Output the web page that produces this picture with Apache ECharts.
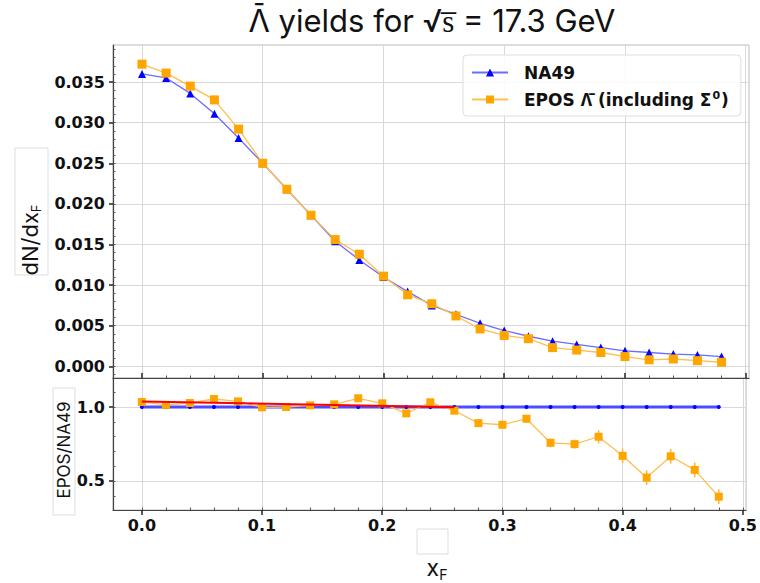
<!DOCTYPE html>
<html><head><meta charset="utf-8">
<script src="https://cdn.jsdelivr.net/npm/echarts@6/dist/echarts.min.js"></script>
<style>html,body{margin:0;padding:0;background:#fff}#c{width:760px;height:583px}</style>
</head><body><div id="c"></div>
<script>
// ---- data ----
const xF = [0.00,0.02,0.04,0.06,0.08,0.10,0.12,0.14,0.16,0.18,0.20,0.22,0.24,0.26,0.28,0.30,0.32,0.34,0.36,0.38,0.40,0.42,0.44,0.46,0.48];
const na49 = [0.0360,0.0355,0.0336,0.0311,0.0281,0.0250,0.0218,0.0186,0.0154,0.0131,0.0110,0.0092,0.0075,0.0064,0.0053,0.0044,0.0037,0.0031,0.0027,0.0023,0.0019,0.0017,0.0015,0.0014,0.0012];
const epos = [0.0372,0.0361,0.0345,0.0328,0.0292,0.0250,0.0218,0.0186,0.0156,0.0138,0.0111,0.0088,0.0077,0.0062,0.0046,0.0038,0.0034,0.0023,0.0020,0.0017,0.0012,0.0008,0.0009,0.0007,0.0005];
const ratioNA49 = [1,1,1,1,1,1,1,1,1,1,1,1,1,1,1,1,1,1,1,1,1,1,1,1,1];
const ratioEPOS = [1.034,1.014,1.027,1.054,1.038,0.998,1.000,1.011,1.018,1.059,1.025,0.957,1.032,0.975,0.891,0.880,0.921,0.758,0.749,0.799,0.670,0.523,0.667,0.575,0.394];
const ratioErr = [0.012,0.012,0.012,0.012,0.012,0.012,0.012,0.012,0.012,0.015,0.015,0.018,0.02,0.02,0.022,0.022,0.025,0.03,0.03,0.045,0.05,0.05,0.05,0.05,0.05];
const fitX = [0.0, 0.26];
const fitY = [1.037, 0.999];
const xTicks = [0.0,0.1,0.2,0.3,0.4,0.5];
const yTopTicks = [0.000,0.005,0.010,0.015,0.020,0.025,0.030,0.035];
const yBotTicks = [0.5,1.0];

// ---- layout ----
const XMIN = -0.024, XMAX = 0.5027;
const YTMIN = -0.00144, YTMAX = 0.03956;
const YBMIN = 0.304, YBMAX = 1.196;
function steps(a, b, s) { const r = []; for (let k = Math.round(a / s); k * s <= b + 1e-9; k++) r.push(+(k * s).toFixed(6)); return r; }
const xMinor = steps(0, 0.5, 0.02);
const yTopMinor = steps(-0.001, 0.039, 0.001);
const yBotMinor = steps(0.4, 1.1, 0.1);

const TICKFONT = { fontFamily: 'DejaVu Sans', fontWeight: 'bold', fontSize: 16, color: '#111' };
const AX = '#444';
const GRIDC = '#d9d9d9';

function xAxisMain(gi, labels) {
  return { gridIndex: gi, type: 'value', min: XMIN, max: XMAX, position: 'bottom',
    axisLine: { show: true, onZero: false, lineStyle: { color: AX, width: 1.2 } },
    axisTick: { show: true, customValues: xTicks, inside: gi === 0, length: 5, lineStyle: { color: '#222', width: 1.5 } },
    axisLabel: { show: labels, customValues: xTicks, formatter: v => v.toFixed(1), margin: 7, ...TICKFONT },
    splitLine: { show: true, lineStyle: { color: GRIDC, width: 1 } } };
}
function xAxisMinor(gi) {
  return { gridIndex: gi, type: 'value', min: XMIN, max: XMAX, position: 'bottom',
    axisLine: { show: false, onZero: false },
    axisTick: { show: true, customValues: xMinor, inside: true, length: 2.5, lineStyle: { color: '#555', width: 1 } },
    axisLabel: { show: false }, splitLine: { show: false } };
}
function yAxisMain(gi, min, max, ticks, fmt) {
  return { gridIndex: gi, type: 'value', min: min, max: max, position: 'left',
    axisLine: { show: true, onZero: false, lineStyle: { color: AX, width: 1.2 } },
    axisTick: { show: true, customValues: ticks, length: 4, lineStyle: { color: '#222', width: 1.5 } },
    axisLabel: { show: true, customValues: ticks, formatter: fmt, margin: 8, ...TICKFONT },
    splitLine: { show: true, lineStyle: { color: GRIDC, width: 1 } } };
}
function yAxisMinor(gi, min, max, ticks) {
  return { gridIndex: gi, type: 'value', min: min, max: max, position: 'left',
    axisLine: { show: false, onZero: false },
    axisTick: { show: true, customValues: ticks, inside: true, length: 2.5, lineStyle: { color: '#555', width: 1 } },
    axisLabel: { show: false }, splitLine: { show: false } };
}

const NAME_NA49 = 'NA49';
const NAME_EPOS = 'EPOS \u039B\u0304 (including \u03A3\u2070)';
const pairs = (xs, ys) => xs.map((x, i) => [x, ys[i]]);

const option = {
  animation: false,
  backgroundColor: '#fff',
  title: { text: '\u039B\u0304 yields for \u221As\u0305 = 17.3 GeV', left: 427, top: 0, textAlign: 'center',
    textStyle: { fontFamily: 'Inter', fontWeight: 'normal', fontSize: 31, color: '#111' } },
  grid: [
    { left: 113, top: 45, width: 636, height: 333, show: true, borderColor: '#bbb', borderWidth: 1, backgroundColor: 'transparent' },
    { left: 113, top: 378, width: 636, height: 132, show: true, borderColor: '#bbb', borderWidth: 1, backgroundColor: 'transparent' }
  ],
  xAxis: [ xAxisMain(0, false), xAxisMinor(0), xAxisMain(1, true), xAxisMinor(1) ],
  yAxis: [
    yAxisMain(0, YTMIN, YTMAX, yTopTicks, v => v.toFixed(3)), yAxisMinor(0, YTMIN, YTMAX, yTopMinor),
    yAxisMain(1, YBMIN, YBMAX, yBotTicks, v => v.toFixed(1)), yAxisMinor(1, YBMIN, YBMAX, yBotMinor)
  ],
  legend: {
    data: [NAME_NA49, NAME_EPOS], orient: 'vertical', left: 463, top: 55,
    padding: [9, 12, 8, 8], itemGap: 9, itemWidth: 36, itemHeight: 10,
    backgroundColor: 'rgba(255,255,255,0.85)', borderColor: '#ddd', borderWidth: 1, borderRadius: 4,
    formatter: name => name === NAME_EPOS ? '{a|EPOS }{L|\u039B\u0304}{a| (including \u03A3}{s|0}{a|)}' : '{a|' + name + '}',
    textStyle: { fontFamily: 'DejaVu Sans', fontWeight: 'bold', fontSize: 17, color: '#111', padding: [0, 0, 0, 11],
      rich: { a: { fontFamily: 'DejaVu Sans', fontWeight: 'bold', fontSize: 17, color: '#111' },
              L: { fontFamily: 'Noto Sans', fontWeight: 'bold', fontSize: 17, color: '#111' },
              s: { fontFamily: 'DejaVu Sans', fontWeight: 'bold', fontSize: 11, color: '#111', verticalAlign: 'top', padding: [0, 1, 8, 1] } } }
  },
  graphic: [
    { type: 'rect', shape: { x: 15, y: 148, width: 33, height: 127 }, style: { fill: 'none', stroke: '#ddd', lineWidth: 1 }, z: 1 },
    { type: 'text', x: 30, y: 240, rotation: Math.PI / 2, z: 2,
      style: { text: '{a|dN/dx}{b|F}', rich: { a: { fontFamily: 'Inter', fontSize: 22, fill: '#111' }, b: { fontFamily: 'Inter', fontSize: 13, fill: '#111', padding: [11, 0, 0, 0] } },
        textAlign: 'center', textVerticalAlign: 'middle' } },
    { type: 'rect', shape: { x: 53, y: 388, width: 22, height: 127 }, style: { fill: 'none', stroke: '#ddd', lineWidth: 1 }, z: 1 },
    { type: 'text', x: 64, y: 450, rotation: Math.PI / 2, z: 2,
      style: { text: 'EPOS/NA49', font: '17px Inter', fill: '#111', textAlign: 'center', textVerticalAlign: 'middle' } },
    { type: 'rect', shape: { x: 417, y: 529, width: 31, height: 25 }, style: { fill: 'none', stroke: '#ddd', lineWidth: 1 }, z: 1 },
    { type: 'text', x: 437, y: 568, z: 2,
      style: { text: '{a|x}{b|F}', rich: { a: { fontFamily: 'Inter', fontSize: 23, fill: '#111' }, b: { fontFamily: 'Inter', fontSize: 14, fill: '#111', padding: [12, 0, 0, 0] } },
        textAlign: 'center', textVerticalAlign: 'middle' } }
  ],
  series: [
    { name: NAME_NA49, type: 'line', xAxisIndex: 0, yAxisIndex: 0, data: pairs(xF, na49),
      symbol: 'triangle', symbolSize: 8, itemStyle: { color: '#0000ff' },
      lineStyle: { color: '#6b6bff', width: 1.3 }, z: 3 },
    { name: NAME_EPOS, type: 'line', xAxisIndex: 0, yAxisIndex: 0, data: pairs(xF, epos),
      symbol: 'rect', symbolSize: 9, itemStyle: { color: '#ffa500' },
      lineStyle: { color: '#ffbf4d', width: 1.3 }, z: 4 },
    { name: 'ratioNA49', type: 'line', xAxisIndex: 2, yAxisIndex: 2, data: pairs(xF, ratioNA49),
      symbol: 'circle', symbolSize: 4, itemStyle: { color: '#0000ff' },
      lineStyle: { color: '#4d4dff', width: 3 }, z: 3 },
    { name: 'ratioEPOSerr', type: 'custom', xAxisIndex: 2, yAxisIndex: 2,
      data: xF.map((x, i) => [x, ratioEPOS[i] - ratioErr[i], ratioEPOS[i] + ratioErr[i]]),
      renderItem: (params, api) => {
        const p1 = api.coord([api.value(0), api.value(1)]);
        const p2 = api.coord([api.value(0), api.value(2)]);
        return { type: 'line', shape: { x1: p1[0], y1: p1[1], x2: p2[0], y2: p2[1] }, style: { stroke: '#ffb733', lineWidth: 1.5 } };
      }, z: 4 },
    { name: 'ratioEPOS', type: 'line', xAxisIndex: 2, yAxisIndex: 2, data: pairs(xF, ratioEPOS),
      symbol: 'rect', symbolSize: 8, itemStyle: { color: '#ffa500' },
      lineStyle: { color: '#ffbf4d', width: 1.3 }, z: 5 },
    { name: 'fit', type: 'line', xAxisIndex: 2, yAxisIndex: 2, data: pairs(fitX, fitY),
      symbol: 'none', lineStyle: { color: '#ff0000', width: 2 }, z: 6 }
  ]
};
const chart = echarts.init(document.getElementById('c'), null, { renderer: 'svg' });
chart.setOption(option);
</script>
</body></html>
